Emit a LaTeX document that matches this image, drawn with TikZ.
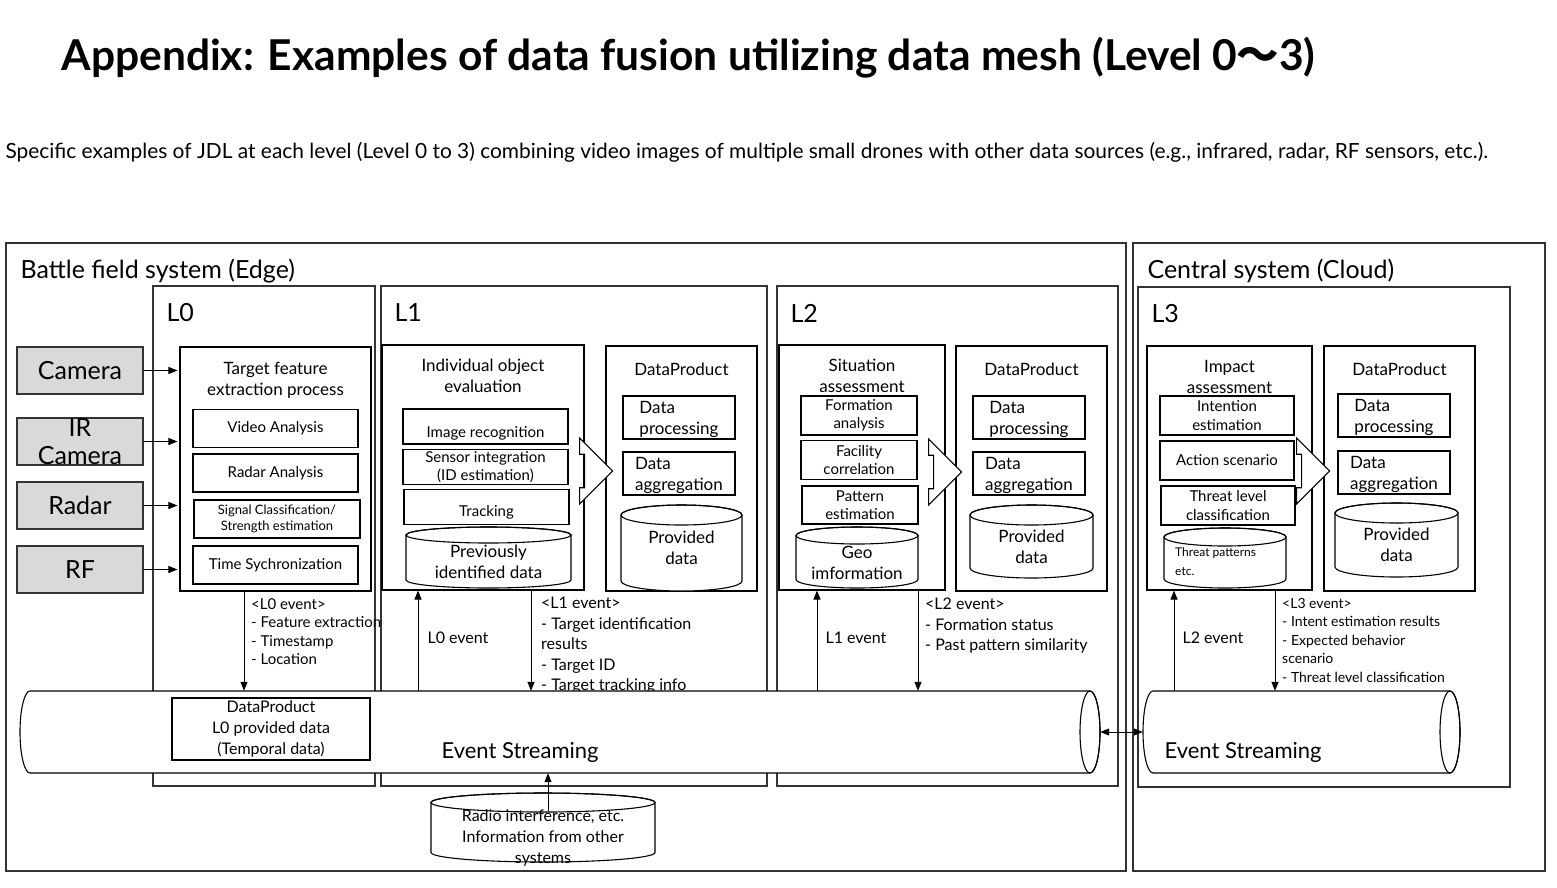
\documentclass[tikz,border=0pt]{standalone}
\usepackage{fontspec}
\setmainfont{Lato}
\newfontfamily\cjk{Noto Sans CJK JP}
\usetikzlibrary{positioning,shapes.arrows,arrows.meta}
\newcommand\fntT{\fontsize{42.5}{50}\selectfont\bfseries}
\newcommand\fntL{\fontsize{25}{28}\selectfont}
\newcommand\fntM{\fontsize{17}{21}\selectfont}
\newcommand\fntS{\fontsize{15}{18.5}\selectfont}
\newcommand\fntXS{\fontsize{13}{16}\selectfont}
% upright store: centre x, centre y, width, height, half height of the lid
\newcommand\cylv[5]{%
  \draw[line width=1.1pt,fill=white]
    (#1-#3/2,#2-#4/2+#5) -- (#1-#3/2,#2+#4/2-#5)
    arc[start angle=180,end angle=360,x radius={(#3/2)*1pt},y radius={#5*1pt}]
    -- (#1+#3/2,#2-#4/2+#5)
    arc[start angle=0,end angle=180,x radius={(#3/2)*1pt},y radius={#5*1pt}] -- cycle;
  \draw[line width=1.1pt] (#1,#2-#4/2+#5) ellipse[x radius={(#3/2)*1pt},y radius={#5*1pt}];}
% lying pipe: centre x, centre y, length, height, half width of the end
\newcommand\cylh[5]{%
  \draw[line width=1.1pt,fill=white]
    (#1+#3/2-#5,#2-#4/2) -- (#1-#3/2+#5,#2-#4/2)
    arc[start angle=90,end angle=270,x radius={#5*1pt},y radius={(#4/2)*1pt}]
    -- (#1+#3/2-#5,#2+#4/2)
    arc[start angle=-90,end angle=90,x radius={#5*1pt},y radius={(#4/2)*1pt}] -- cycle;
  \draw[line width=1.1pt] (#1+#3/2-#5,#2) ellipse[x radius={#5*1pt},y radius={(#4/2)*1pt}];}

\begin{document}
\begin{tikzpicture}[x=1pt,y=-1pt,
  frame/.style={draw=black!80,line width=1.3pt,inner sep=0pt},
  blk/.style={draw,line width=1.1pt,inner sep=0pt,align=center},
  sensor/.style={draw=black!80,fill=black!15,line width=1.3pt,inner sep=0pt,
    minimum width=126pt,minimum height=47pt,font=\fntL,align=center},
  sub/.style={blk,font=\fntS},
  dbtext/.style={font=\fntM,align=center,inner sep=0pt},
  hollow/.style={single arrow,draw,fill=white,line width=1.1pt,inner xsep=0pt,
    inner ysep=16pt,minimum height=28pt,minimum width=66pt,
    single arrow head extend=16pt,single arrow head indent=0pt,anchor=west},
  arr/.style={-{Triangle[length=9pt,width=7pt]},line width=1pt},
  evt/.style={anchor=north west,align=left,inner sep=0pt}]
\useasboundingbox (0,0) rectangle (1557,887);

% heading
\node[anchor=base west,font=\fntT] (title) at (58,70)
  {Appendix: Examples of data fusion utilizing data mesh (Level 0{\cjk 〜}3)};
\node[anchor=base west,font=\fontsize{20.9}{24}\selectfont] (subtitle) at (2,158)
  {Specific examples of JDL at each level (Level 0 to 3) combining video images of multiple small drones with other data sources (e.g., infrared, radar, RF sensors, etc.).};

% systems
\node[frame,minimum width=1120pt,minimum height=628pt] (edge) at (566,557) {};
\node[frame,minimum width=412pt,minimum height=628pt] (cloud) at (1339,557) {};
\node[anchor=west,font=\fntL] (edgelbl) at (17,271) {Battle field system (Edge)};
\node[anchor=west,font=\fntL] (cloudlbl) at (1144,271) {Central system (Cloud)};

% levels
\node[frame,minimum width=222pt,minimum height=500pt] (lv0) at (264,536) {};
\node[frame,minimum width=386pt,minimum height=500pt] (lv1) at (574,536) {};
\node[frame,minimum width=341pt,minimum height=500pt] (lv2) at (947.5,536) {};
\node[frame,minimum width=372pt,minimum height=500pt] (lv3) at (1324,537) {};
\node[anchor=west,font=\fntL] at (163,313) {L0};
\node[anchor=west,font=\fntL] at (391,313) {L1};
\node[anchor=west,font=\fntL] at (787,313) {L2};
\node[anchor=west,font=\fntL] at (1148,314) {L3};

% sensors
\node[sensor] (cam) at (80,370.5) {Camera};
\node[sensor] (ir) at (80,441.5) {IR\\[0pt]Camera};
\node[sensor] (radar) at (80,505.5) {Radar};
\node[sensor] (rf) at (80,569.5) {RF};

% L0
\node[blk,minimum width=191pt,minimum height=244pt] (p0) at (275.5,469) {};
\node[font=\fntM,align=center,below=12pt of p0.north] {Target feature\\extraction process};
\node[sub,minimum width=165pt,minimum height=38pt] (video) at (275.5,428.5) {Video Analysis};
\node[sub,minimum width=165pt,minimum height=38pt] (radarana) at (275.5,473) {Radar Analysis};
\node[blk,font=\fntXS,minimum width=166pt,minimum height=38pt] (signal) at (277,519) {Signal Classification/\\Strength estimation};
\node[sub,minimum width=165pt,minimum height=38pt] (timesync) at (275.5,565) {Time Sychronization};

\foreach \s in {cam,ir,radar,rf}
  \draw[arr] (\s.east) -- ([xshift=-2pt]p0.west |- \s.east);

% L1
\node[blk,minimum width=202pt,minimum height=245pt] (p1) at (483,467.5) {};
\node[font=\fntM,align=center,below=11pt of p1.north] {Individual object\\evaluation};
\node[sub,minimum width=165pt,minimum height=35pt] (imgrec) at (485.5,426.5) {\rule{0pt}{24pt}Image recognition};
\node[sub,minimum width=165pt,minimum height=35pt] (sensint) at (485.5,467) {Sensor integration\\(ID estimation)};
\node[sub,minimum width=165pt,minimum height=35pt] (track) at (486.5,507) {\rule{0pt}{22pt}Tracking};
\cylv{488.5}{557.5}{165}{61}{8}
\node[dbtext] (prevdata) at (488.5,562) {Previously\\identified data};

\node[blk,minimum width=151pt,minimum height=245pt] (dp1) at (681.5,468.5) {};
\node[font=\fntM,below=14pt of dp1.north] {DataProduct};
\node[blk,font=\fntM,align=left,minimum width=112pt,minimum height=43pt] (proc1) at (679,417.5) {\rule{0pt}{17pt}Data\\processing};
\node[blk,font=\fntM,align=left,minimum width=112pt,minimum height=43pt] (aggr1) at (679,473.5) {\rule{0pt}{17pt}Data\\aggregation};
\cylv{681.5}{548}{121}{86}{10}
\node[dbtext] (prov1) at (681.5,548) {Provided\\data};
\node[hollow] (a1) at (584,471) {};

% L2
\node[blk,minimum width=166pt,minimum height=245pt] (p2) at (862,467.5) {};
\node[font=\fntM,align=center,below=11pt of p2.north] {Situation\\assessment};
\node[sub,minimum width=116pt,minimum height=39pt] (formation) at (859,415.5) {Formation\\analysis};
\node[sub,minimum width=116pt,minimum height=39pt] (facility) at (859,460) {Facility\\correlation};
\node[sub,minimum width=116pt,minimum height=38pt] (pattern) at (860,505) {Pattern\\estimation};
\cylv{857}{557.5}{122}{61}{8.5}
\node[dbtext] (geo) at (857,563) {Geo\\imformation};

\node[blk,minimum width=151pt,minimum height=245pt] (dp2) at (1031.5,468.5) {};
\node[font=\fntM,below=14pt of dp2.north] {DataProduct};
\node[blk,font=\fntM,align=left,minimum width=112pt,minimum height=43pt] (proc2) at (1029,417.5) {\rule{0pt}{17pt}Data\\processing};
\node[blk,font=\fntM,align=left,minimum width=112pt,minimum height=43pt] (aggr2) at (1029,473.5) {\rule{0pt}{17pt}Data\\aggregation};
\cylv{1031.5}{541.5}{123}{73}{10}
\node[dbtext] (prov2) at (1031.5,547) {Provided\\data};
\node[hollow] (a2) at (933,472) {};

% L3
\node[blk,minimum width=165pt,minimum height=244pt] (p3) at (1229.5,468) {};
\node[font=\fntM,align=center,below=11pt of p3.north] {Impact\\assessment};
\node[sub,minimum width=134pt,minimum height=39pt] (intent) at (1227,415.5) {Intention\\estimation};
\node[sub,minimum width=134pt,minimum height=39pt] (action) at (1227,460.5) {Action scenario};
\node[sub,minimum width=134pt,minimum height=39pt] (threat) at (1228,505.5) {Threat level\\classification};
\cylv{1225}{558}{122}{60}{9}
\node[dbtext,font=\fontsize{12}{19}\selectfont,align=left,anchor=west] (patterns) at (1175,561.5) {Threat patterns\\etc.};

\node[blk,minimum width=151pt,minimum height=245pt] (dp3) at (1399.5,468.5) {};
\node[font=\fntM,below=14pt of dp3.north] {DataProduct};
\node[blk,font=\fntM,align=left,minimum width=112pt,minimum height=43pt] (proc3) at (1394,415.5) {\rule{0pt}{17pt}Data\\processing};
\node[blk,font=\fntM,align=left,minimum width=112pt,minimum height=43pt] (aggr3) at (1394,472.5) {\rule{0pt}{17pt}Data\\aggregation};
\cylv{1396.5}{540}{123}{74}{10}
\node[dbtext] (prov3) at (1396.5,545) {Provided\\data};
\node[hollow] (a3) at (1301,471) {};

% event labels
\node[evt,font=\fntS] (ev0) at (251,598) {<L0 event>\\- Feature extraction\\- Timestamp\\- Location};
\node[anchor=west,font=\fontsize{16}{19}\selectfont] (up0) at (424,638) {L0 event};
\node[evt,font=\fontsize{16}{20.5}\selectfont] (ev1) at (541,597) {<L1 event>\\- Target identification\\results\\- Target ID\\- Target tracking info};
\node[anchor=west,font=\fontsize{16}{19}\selectfont] (up1) at (822,638) {L1 event};
\node[evt,font=\fontsize{16}{20.5}\selectfont] (ev2) at (925,598) {<L2 event>\\- Formation status\\- Past pattern similarity};
\node[anchor=west,font=\fontsize{16}{19}\selectfont] (up2) at (1179,638) {L2 event};
\node[evt,font=\fontsize{14}{18.5}\selectfont] (ev3) at (1282,598) {<L3 event>\\- Intent estimation results\\- Expected behavior\\scenario\\- Threat level classification};

% event streaming
\cylh{560}{732}{1080}{82}{10}
\node[inner sep=0pt,minimum width=1080pt,minimum height=82pt] (es) at (560,732) {};
\node[anchor=west,font=\fontsize{22}{26}\selectfont] at (438,752) {Event Streaming};
\node[blk,font=\fontsize{16}{21}\selectfont,minimum width=198pt,minimum height=62pt] (dp0) at (271,729) {DataProduct\\L0 provided data\\(Temporal data)};
\cylh{1301.5}{732}{317}{82}{10}
\node[inner sep=0pt,minimum width=317pt,minimum height=82pt] (ces) at (1301.5,732) {};
\node[anchor=west,font=\fontsize{22}{26}\selectfont] at (1161,752) {Event Streaming};
\draw[{Triangle[length=9pt,width=7pt]}-{Triangle[length=9pt,width=7pt]},line width=1pt] (es.east) -- (ces.west);

% connectors to and from the stream
\draw[arr] ([xshift=-31.5pt]p0.south) -- ([xshift=-31.5pt]p0.south |- es.north);
\draw[arr] ([xshift=-65pt]p1.south |- es.north) -- ([xshift=-65pt]p1.south);
\draw[arr] ([xshift=48pt]p1.south) -- ([xshift=48pt]p1.south |- es.north);
\draw[arr] ([xshift=-45pt]p2.south |- es.north) -- ([xshift=-45pt]p2.south);
\draw[arr] ([xshift=56pt]p2.south) -- ([xshift=56pt]p2.south |- es.north);
\draw[arr] ([xshift=-55.5pt]p3.south |- ces.north) -- ([xshift=-55.5pt]p3.south);
\draw[arr] ([xshift=45.5pt]p3.south) -- ([xshift=45.5pt]p3.south |- ces.north);

% other sources
\cylv{543}{827.5}{224}{69}{9.5}
\node[dbtext,font=\fontsize{16}{21}\selectfont] (radio) at (543,838) {Radio interference, etc.\\Information from other\\systems};
\draw[arr] ([xshift=5pt,yshift=27pt]radio.center) -- ([xshift=5pt]radio.center |- es.south);
\end{tikzpicture}
\end{document}
